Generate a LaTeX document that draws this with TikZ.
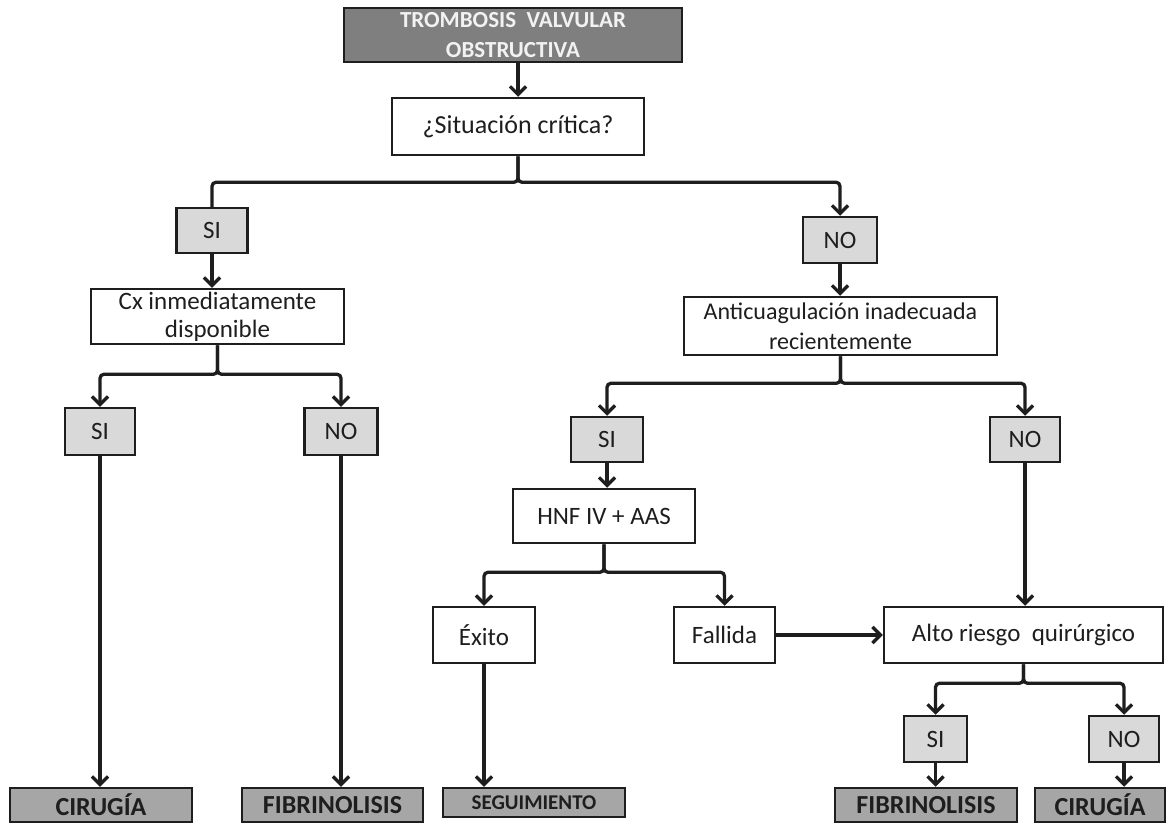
\documentclass[tikz,border=0pt]{standalone}
\usepackage{fontspec}
\setmainfont{Carlito}
\usetikzlibrary{arrows.meta}
\definecolor{boxdark}{HTML}{7F7F7F}
\definecolor{boxmid}{HTML}{A6A6A6}
\definecolor{boxlight}{HTML}{D9D9D9}
\definecolor{ink}{HTML}{1E1E1E}
\definecolor{paleink}{HTML}{F2F2F2}
\begin{document}
\begin{tikzpicture}[x=1pt,y=-1pt,
  box/.style={draw=ink, line width=2.5pt, rectangle, inner sep=0pt, align=center,
    text=ink, font=\fontsize{25}{29}\selectfont},
  plain/.style={box, fill=white},
  answer/.style={box, fill=boxlight},
  title/.style={box, fill=boxdark, text=paleink, font=\bfseries\fontsize{23}{30}\selectfont},
  outcome/.style={box, fill=boxmid, font=\bfseries\fontsize{26}{30}\selectfont},
  link/.style={draw=ink, line width=3.3pt, rounded corners=4pt},
  flow/.style={link, -{Straight Barb[length=8pt,width=16pt]}},
  sz/.style 2 args={minimum width=#1pt, minimum height=#2pt},
]
\useasboundingbox (0,0) rectangle (1167,822);
\clip (0,0) rectangle (1167,822);
\fill[white] (0,0) rectangle (1167,822);

% decision tree
\node[title, sz={338}{54}] (top) at (513,35) {TROMBOSIS\ \ VALVULAR\\OBSTRUCTIVA};
\node[plain, sz={252}{57}, font=\fontsize{26}{30}\selectfont] (sit) at (518,126.5) {¿Situación crítica?};

\node[answer, sz={71}{45}] (siA) at (212,230.5) {SI};
\node[answer, sz={74}{46}] (noA) at (840,240) {NO};

\node[plain, sz={253}{55}, font=\fontsize{25}{28}\selectfont] (cx) at (217.5,316.5) {Cx inmediatamente\\disponible};
\node[plain, sz={313}{58}, font=\fontsize{24}{30}\selectfont] (anti) at (840.5,326) {Anticuagulación inadecuada\\recientemente};

\node[answer, sz={70}{47}] (siB) at (100,431.5) {SI};
\node[answer, sz={73}{47}] (noB) at (341,431.5) {NO};
\node[answer, sz={72}{45}] (siC) at (607,439.5) {SI};
\node[answer, sz={70}{45}] (noC) at (1025,439.5) {NO};

\node[plain, sz={182}{54}] (hnf) at (604,516) {HNF IV + AAS};
\node[plain, sz={102}{56}] (exito) at (484,635) {Éxito};
\node[plain, sz={101}{56}] (fallida) at (724.5,635) {Fallida};
\node[plain, sz={279}{56}] (alto) at (1023.5,635) {Alto riesgo\ \ quirúrgico};

\node[answer, sz={63}{46}] (siD) at (935.5,739) {SI};
\node[answer, sz={70}{46}] (noD) at (1124,739) {NO};

% outcome boxes run past the lower edge
\node[outcome, sz={182}{34}] (cir1) at (101,805) {CIRUGÍA};
\node[outcome, sz={181}{34}] (fib1) at (332.5,805) {FIBRINOLISIS};
\node[outcome, sz={182}{29}, font=\bfseries\fontsize{21}{24}\selectfont] (seg) at (534,802.5) {SEGUIMIENTO};
\node[outcome, sz={182}{34}] (fib2) at (926,805) {FIBRINOLISIS};
\node[outcome, sz={130}{34}] (cir2) at (1100,805) {CIRUGÍA};

% connectors
\draw[flow] (top.south -| sit.north) -- (sit.north);
\draw[link] (sit.south) -- ++(0,26) -| (siA.north);
\draw[flow] (sit.south) -- ++(0,26) -| (noA.north);

\draw[flow] (siA.south) -- (siA.south |- cx.north);
\draw[flow] (noA.south) -- (noA.south |- anti.north);

\draw[flow] (cx.south) -- ++(0,29) -| (siB.north);
\draw[flow] (cx.south) -- ++(0,29) -| (noB.north);
\draw[flow] (anti.south) -- ++(0,27) -| (siC.north);
\draw[flow] (anti.south) -- ++(0,27) -| (noC.north);

\draw[flow] (siB.south) -- (siB.south |- cir1.north);
\draw[flow] (noB.south) -- (noB.south |- fib1.north);

\draw[flow] (siC.south) -- (siC.south |- hnf.north);
\draw[flow] (noC.south) -- (noC.south |- alto.north);

\draw[flow] (hnf.south) -- ++(0,28) -| (exito.north);
\draw[flow] (hnf.south) -- ++(0,28) -| (fallida.north);

\draw[flow] (exito.south) -- (exito.south |- seg.north);
\draw[flow] (fallida.east) -- (fallida.east -| alto.west);

\draw[flow] (alto.south) -- ++(0,19) -| (siD.north);
\draw[flow] (alto.south) -- ++(0,19) -| (noD.north);

\draw[flow] (siD.south) -- (siD.south |- fib2.north);
\draw[flow] (noD.south) -- (noD.south |- cir2.north);
\end{tikzpicture}
\end{document}
